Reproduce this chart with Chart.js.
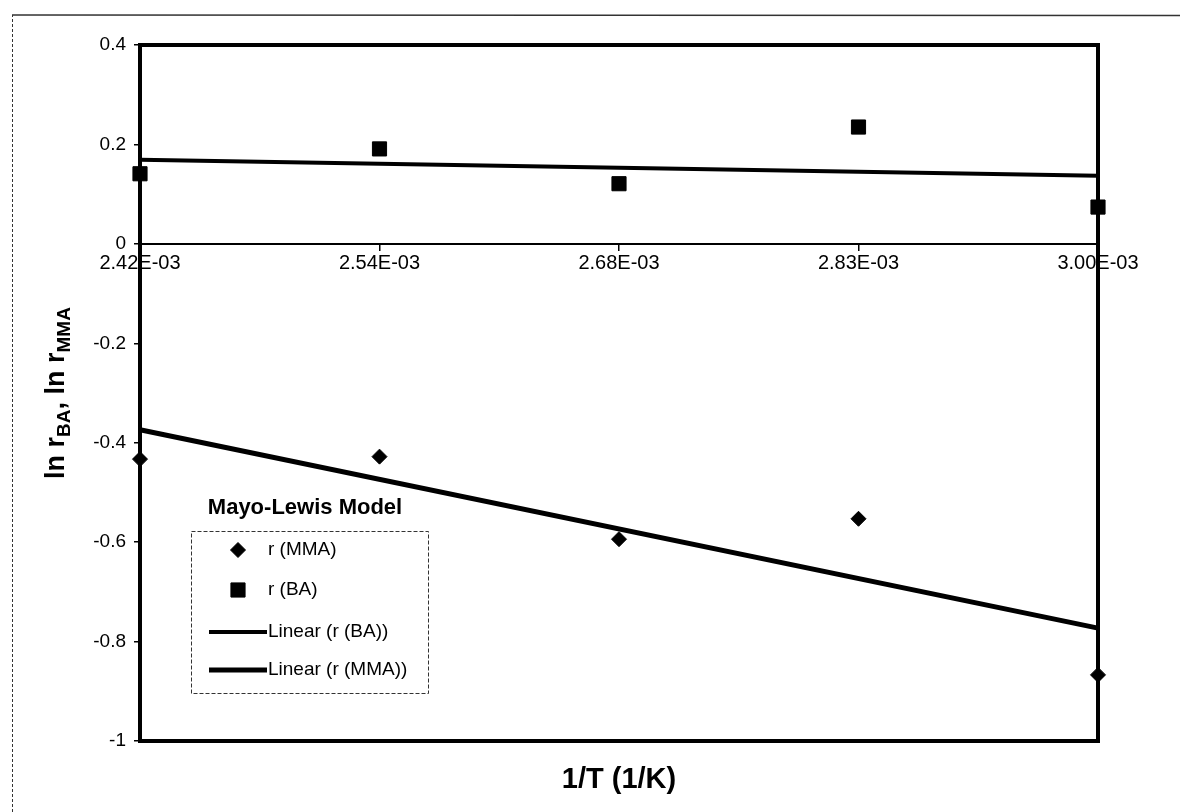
<!DOCTYPE html>
<html>
<head>
<meta charset="utf-8">
<title>Mayo-Lewis Model</title>
<script src="https://cdn.jsdelivr.net/npm/chart.js@4.4.1/dist/chart.umd.min.js"></script>
<style>
  html, body { margin: 0; padding: 0; background: #fff; }
  #wrap { position: relative; width: 1180px; height: 812px; }
</style>
</head>
<body>
<div id="wrap"><canvas id="chart"></canvas></div>
<script>
// 1/T categories (evenly spaced, as in the original category axis)
const invTemps = ['2.42E-03', '2.54E-03', '2.68E-03', '2.83E-03', '3.00E-03'];
// ln r values
const lnMMA = [-0.433, -0.428, -0.594, -0.553, -0.867];
const lnBA = [0.141, 0.191, 0.121, 0.235, 0.074];
// trend line ends (first and last category)
const trendBA = [0.169, null, null, null, 0.137];
const trendMMA = [-0.374, null, null, null, -0.773];

const FONT = '"Liberation Sans", Arial, sans-serif';

// plot frame + outer page frame
const framePlugin = {
    id: 'frame',
    beforeDatasetsDraw(chart) {
        const { ctx, chartArea: a } = chart;
        ctx.save();
        ctx.strokeStyle = '#000';
        ctx.lineWidth = 4;
        ctx.strokeRect(a.left, a.top, a.right - a.left, a.bottom - a.top);
        // outer frame of the page
        ctx.lineWidth = 1;
        ctx.strokeStyle = '#333';
        ctx.setLineDash([3, 2]);
        ctx.beginPath();
        ctx.moveTo(12.5, 812);
        ctx.lineTo(12.5, 15);
        ctx.stroke();
        ctx.setLineDash([]);
        ctx.lineWidth = 1.5;
        ctx.beginPath();
        ctx.moveTo(12, 15);
        ctx.lineTo(1180, 15.5);
        ctx.stroke();
        ctx.restore();
    }
};

// y title with subscripts
const yTitlePlugin = {
    id: 'yTitle',
    afterDraw(chart) {
        const { ctx, chartArea: a } = chart;
        const parts = [
            ['ln r', 27, 0], ['BA', 19, 6], [', ln r', 27, 0], ['MMA', 19, 6]
        ];
        ctx.save();
        ctx.fillStyle = '#000';
        ctx.textBaseline = 'alphabetic';
        let total = 0;
        parts.forEach(p => { ctx.font = 'bold ' + p[1] + 'px ' + FONT; total += ctx.measureText(p[0]).width; });
        ctx.translate(64, (a.top + a.bottom) / 2);
        ctx.rotate(-Math.PI / 2);
        let x = -total / 2;
        parts.forEach(p => {
            ctx.font = 'bold ' + p[1] + 'px ' + FONT;
            ctx.fillText(p[0], x, p[2]);
            x += ctx.measureText(p[0]).width;
        });
        ctx.restore();
    }
};

// legend box in the style of the original
const legendPlugin = {
    id: 'boxLegend',
    afterDraw(chart) {
        const { ctx } = chart;
        ctx.save();
        ctx.fillStyle = '#000';
        ctx.font = 'bold 22px ' + FONT;
        ctx.textAlign = 'center';
        ctx.textBaseline = 'middle';
        ctx.fillText('Mayo-Lewis Model', 305, 508);

        ctx.fillStyle = '#fff';
        ctx.fillRect(191, 531, 237, 162);
        ctx.strokeStyle = '#333';
        ctx.lineWidth = 1;
        ctx.setLineDash([4, 2]);
        ctx.strokeRect(191.5, 531.5, 237, 162);
        ctx.setLineDash([]);

        const rows = [550, 590, 632, 670];
        chart.data.datasets.forEach((ds, i) => {
            const y = rows[i];
            ctx.fillStyle = '#000';
            ctx.strokeStyle = '#000';
            if (ds.showLine === false) {
                Chart.helpers.drawPoint(ctx, {
                    pointStyle: ds.pointStyle, radius: ds.pointRadius, borderWidth: 1
                }, 238, y);
            } else {
                ctx.lineWidth = ds.borderWidth;
                ctx.beginPath();
                ctx.moveTo(209, y);
                ctx.lineTo(267, y);
                ctx.stroke();
            }
            ctx.font = '19px ' + FONT;
            ctx.textAlign = 'left';
            ctx.textBaseline = 'middle';
            ctx.fillText(ds.label, 268, y);
        });
        ctx.restore();
    }
};

new Chart(document.getElementById('chart'), {
    type: 'line',
    data: {
        labels: invTemps,
        datasets: [{
            label: 'r (MMA)',
            data: lnMMA,
            showLine: false,
            pointStyle: 'rectRot',
            pointRadius: 7.5,
            backgroundColor: '#000',
            borderColor: '#000',
            clip: false
        }, {
            label: 'r (BA)',
            data: lnBA,
            showLine: false,
            pointStyle: 'rect',
            pointRadius: 10,
            backgroundColor: '#000',
            borderColor: '#000',
            clip: false
        }, {
            label: 'Linear (r (BA))',
            data: trendBA,
            spanGaps: true,
            borderColor: '#000',
            borderWidth: 4,
            pointRadius: 0,
            clip: false
        }, {
            label: 'Linear (r (MMA))',
            data: trendMMA,
            spanGaps: true,
            borderColor: '#000',
            borderWidth: 5,
            pointRadius: 0,
            clip: false
        }]
    },
    options: {
        responsive: true,
        maintainAspectRatio: false,
        animation: false,
        layout: { padding: { left: 0, top: 45, right: 82, bottom: 71 } },
        plugins: {
            legend: { display: false },
            tooltip: { enabled: false }
        },
        scales: {
            x: {
                type: 'category',
                position: { y: 0 },
                offset: false,
                grid: { drawOnChartArea: false, tickLength: 6, color: '#000', lineWidth: 1.5 },
                border: { color: '#000', width: 2 },
                ticks: {
                    color: '#000', font: { family: FONT, size: 20 },
                    padding: 2, maxRotation: 0, autoSkip: false
                }
            },
            y: {
                min: -1,
                max: 0.4,
                afterFit: s => { s.width = 140; },
                grid: { drawOnChartArea: false, tickLength: 6, color: '#000', lineWidth: 1.5 },
                border: { display: false },
                ticks: {
                    stepSize: 0.2,
                    color: '#000', font: { family: FONT, size: 19 },
                    padding: 8,
                    callback: v => (Math.round(v * 10) / 10).toString()
                }
            }
        }
    },
    plugins: [framePlugin, yTitlePlugin, legendPlugin, {
        id: 'xTitle',
        afterDraw(chart) {
            const { ctx, chartArea: a } = chart;
            ctx.save();
            ctx.fillStyle = '#000';
            ctx.font = 'bold 29px ' + FONT;
            ctx.textAlign = 'center';
            ctx.textBaseline = 'middle';
            ctx.fillText('1/T (1/K)', (a.left + a.right) / 2, 780);
            ctx.restore();
        }
    }]
});
</script>
</body>
</html>
